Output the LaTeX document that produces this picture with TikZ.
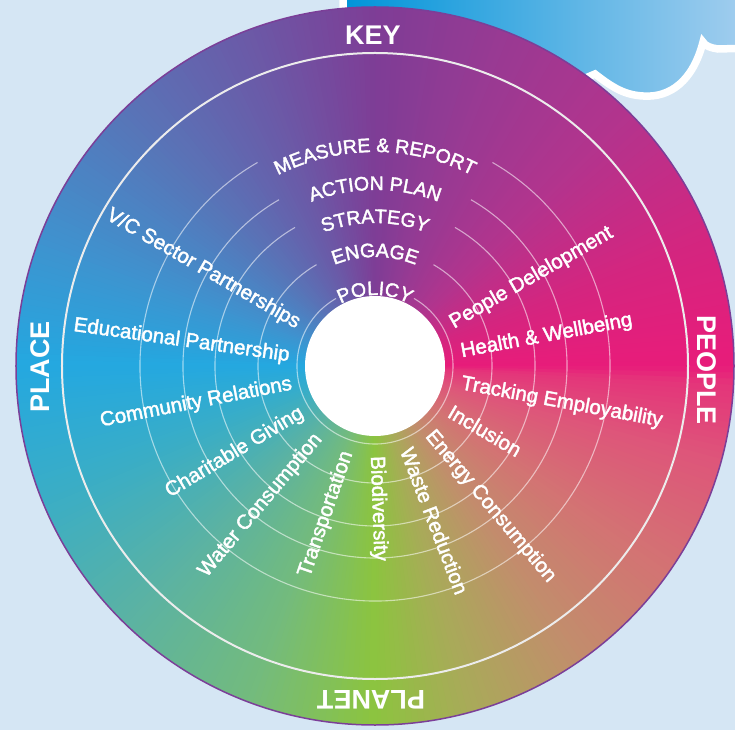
\documentclass[tikz,border=0pt]{standalone}
\usepackage{fontspec}
\setmainfont{Liberation Sans}
\newfontfamily\wheelfont{Liberation Sans}[FakeBold=2]
\usetikzlibrary{decorations.text}

\definecolor{sky}{HTML}{D5E6F4}
\definecolor{cloudA}{HTML}{0094D9}
\definecolor{cloudB}{HTML}{14A0DF}
\definecolor{cloudC}{HTML}{A6CFEF}
\definecolor{rimpurple}{HTML}{7B3F98}
% colour stops round the wheel
\definecolor{wgreen}{HTML}{8CC43F}
\definecolor{wolive}{HTML}{A8AB58}
\definecolor{wtan}{HTML}{C28D6C}
\definecolor{wsalmon}{HTML}{D37373}
\definecolor{wrose}{HTML}{DE557A}
\definecolor{wblush}{HTML}{E4357A}
\definecolor{wpink}{HTML}{E81C7A}
\definecolor{wcerise}{HTML}{D5257F}
\definecolor{wmagenta}{HTML}{B3348D}
\definecolor{wplum}{HTML}{973A93}
\definecolor{wpurple}{HTML}{7E3D96}
\definecolor{wviolet}{HTML}{6C58A6}
\definecolor{wslate}{HTML}{5875B8}
\definecolor{wazure}{HTML}{3E93CF}
\definecolor{wcyan}{HTML}{24A8E0}
\definecolor{wteal}{HTML}{38ADC8}
\definecolor{wsea}{HTML}{5AB2A4}
\definecolor{wleaf}{HTML}{74BB7C}

\newcommand\ringfont{\wheelfont\fontsize{19.5}{22}\selectfont}

\tikzset{
  spoke/.style={text=white, font=\wheelfont\fontsize{20.5}{24}\selectfont, inner sep=0pt, text height=14.5pt, text depth=0pt},
  spokeL/.style={spoke, anchor=east},
  spokeR/.style={spoke, anchor=west},
  quarter/.style={text=white, font=\fontsize{27}{30}\selectfont\bfseries, inner sep=0pt},
  ring/.style={draw=white, draw opacity=.55, line width=1.1pt},
  rim/.style={draw=white!85!gray, line width=2pt},
  toplabel/.style={decorate, decoration={text along path, text align=center, text color=white, text={#1}}},
}

\begin{document}
\begin{tikzpicture}[x=1pt,y=1pt]
\useasboundingbox[fill=sky] (-375,-364) rectangle (360,366);

% cloud behind the wheel
\path[left color=cloudA, middle color=cloudB, right color=cloudC, draw=white, line width=7.5pt]
  (-32,385) -- (380,385) -- (380,318) -- (343,317)
  .. controls (336,318) and (330,320) .. (328,324)
  .. controls (318,285) and (295,268) .. (268,270)
  .. controls (250,271) and (238,278) .. (220,292)
  -- (0,200) -- (-32,200) -- cycle;

% the wheel, one degree at a time
\foreach \a/\b/\ca/\cb in {-90/-75/wgreen/wolive, -75/-55/wolive/wtan, -55/-35/wtan/wsalmon,
    -35/-15/wsalmon/wrose, -15/-3/wrose/wblush, -3/0/wblush/wpink, 0/20/wpink/wcerise,
    20/45/wcerise/wmagenta, 45/70/wmagenta/wplum, 70/90/wplum/wpurple, 90/110/wpurple/wviolet,
    110/135/wviolet/wslate, 135/160/wslate/wazure, 160/180/wazure/wcyan, 180/200/wcyan/wteal,
    200/225/wteal/wsea, 225/250/wsea/wleaf, 250/270/wleaf/wgreen}{
  \pgfmathtruncatemacro\last{\b-1}
  \foreach \t in {\a,...,\last}{
    \pgfmathtruncatemacro\p{100*(\b-\t-0.5)/(\b-\a)}
    \fill[fill=\ca!\p!\cb] (0,0) -- (\t:359) arc[start angle=\t, end angle=\t+1.4, radius=359] -- cycle;
  }
}
\draw[rimpurple, line width=1.5pt] (0,0) circle[radius=359];
\draw[rim] (0,0) circle[radius=313];
\foreach \r in {78,117,160,192,235}
  \draw[ring] (120:\r) arc[start angle=120, end angle=420, radius=\r];
\fill[white] (0,0) circle[radius=70];

% stages across the top
\path[toplabel={|\ringfont|POLICY}] (150:71) arc[start angle=150, end angle=30, radius=71];
\path[toplabel={|\ringfont|ENGAGE}] (150:109) arc[start angle=150, end angle=30, radius=109];
\path[toplabel={|\ringfont|STRATEGY}] (150:143) arc[start angle=150, end angle=30, radius=143];
\path[toplabel={|\ringfont|ACTION PLAN}] (150:176) arc[start angle=150, end angle=30, radius=176];
\path[toplabel={|\ringfont|MEASURE {\&} REPORT}] (150:214) arc[start angle=150, end angle=30, radius=214];

% spokes
\node[spokeR, rotate=30] (pdev) at (30:87) {People Delelopment};
\node[spokeR, rotate=10.5] (health) at (10.5:87) {Health \& Wellbeing};
\node[spokeR, rotate=-10.5] (track) at (-10.5:88) {Tracking Employability};
\node[spokeR, rotate=-30.5] (incl) at (-30.5:87) {Inclusion};
\node[spokeR, rotate=-50] (energy) at (-50:86) {Energy Consumption};
\node[spokeR, rotate=-69] (waste) at (-69:88) {Waste Reduction};
\node[spokeR, rotate=-88] (bio) at (-88:90) {Biodiversity};
\node[spokeL, rotate=71] (transp) at (251:90) {Transportation};
\node[spokeL, rotate=50] (water) at (230:90) {Water Consumption};
\node[spokeL, rotate=31] (charity) at (211:86) {Charitable Giving};
\node[spokeL, rotate=11] (community) at (191:85) {Community Relations};
\node[spokeL, rotate=-8] (edu) at (172:86) {Educational Partnership};
\node[spokeL, rotate=-30] (vcs) at (150:87) {V/C Sector Partnerships};

% the four quarters
\node[quarter] (key) at (-2,331) {KEY};
\node[quarter, rotate=-90] (people) at (332,-4) {PEOPLE};
\node[quarter, rotate=90] (place) at (-335,-1) {PLACE};
\node[quarter, rotate=180] (planet) at (-4,-334) {PLANET};
\end{tikzpicture}
\end{document}
